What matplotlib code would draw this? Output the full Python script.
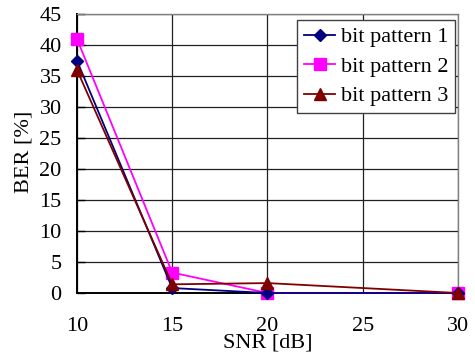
import matplotlib
matplotlib.use("Agg")
import matplotlib.pyplot as plt

snr = [10, 15, 20, 30]
ber_p1 = [37.5, 0.8, 0.0, 0.0]
ber_p2 = [41.0, 3.3, 0.0, 0.0]
ber_p3 = [36.0, 1.4, 1.6, 0.0]
labels = ["bit pattern 1", "bit pattern 2", "bit pattern 3"]
xticks = [10, 15, 20, 25, 30]
yticks = [0, 5, 10, 15, 20, 25, 30, 35, 40, 45]

plt.rcParams['font.family'] = ['Liberation Serif', 'DejaVu Serif']
plt.rcParams['font.size'] = 16

fig = plt.figure(figsize=(4.75, 3.52), dpi=100)
ax = fig.add_axes([0.162, 0.1676, 0.802, 0.7924])

ax.plot(snr, ber_p1, color='#000080', marker='D', markersize=6.5, lw=1.3, label=labels[0], zorder=5, clip_on=False)
ax.plot(snr, ber_p2, color='#FF00FF', marker='s', markersize=8, lw=1.3, label=labels[1], zorder=4, clip_on=False)
ax.plot(snr, ber_p3, color='#800000', marker='^', markersize=9, lw=1.3, label=labels[2], zorder=6, clip_on=False)

ax.set_xlim(10, 30)
ax.set_ylim(0, 45)
ax.set_xticks(xticks)
ax.set_yticks(yticks)
ax.grid(True, color='#202020', lw=0.9)
ax.set_axisbelow(True)

ax.tick_params(axis='y', direction='in', length=6, width=1, pad=11, colors='black')
ax.tick_params(axis='x', direction='in', length=0, pad=17)

for s in ['left', 'bottom']:
    ax.spines[s].set_color('black')
    ax.spines[s].set_linewidth(1.4)
for s in ['top', 'right']:
    ax.spines[s].set_color('#808080')
    ax.spines[s].set_linewidth(1.0)

ax.set_xlabel("SNR [dB]")
ax.xaxis.set_label_coords(0.5, -0.145)
ax.set_ylabel("BER [%]")
ax.yaxis.set_label_coords(-0.115, 0.505)

leg = ax.legend(loc='upper right', bbox_to_anchor=(0.992, 0.978), fancybox=False,
                framealpha=1, edgecolor='#404040', borderpad=0.3, labelspacing=0.4,
                handlelength=1.4, handletextpad=0.25, borderaxespad=0)
leg.get_frame().set_linewidth(1.0)

fig.savefig("out.png", dpi=100)
